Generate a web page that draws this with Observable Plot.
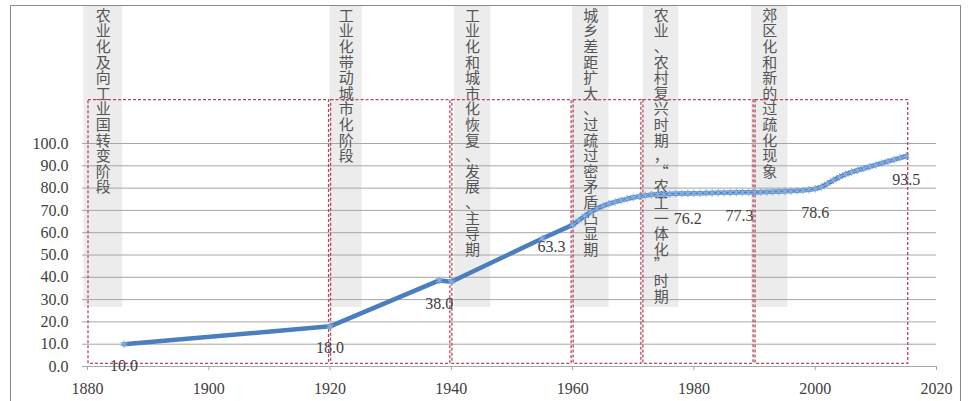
<!DOCTYPE html>
<html>
<head>
<meta charset="utf-8">
<script src="https://cdn.jsdelivr.net/npm/d3@7"></script>
<script src="https://cdn.jsdelivr.net/npm/@observablehq/plot@0.6"></script>
<style>
  html, body { margin: 0; padding: 0; background: #fff; }
  #wrap { position: relative; width: 973px; height: 401px; overflow: hidden; }
  #border { position: absolute; left: 10px; top: 5px; width: 951px; height: 400px; border: 1.5px solid #8a8a8a; box-sizing: border-box; pointer-events: none; }
  #chart { position: absolute; left: 0; top: 0; }
</style>
</head>
<body>
<div id="wrap"><div id="chart"></div><div id="border"></div></div>
<script>
// ---- data ----
const lineYears = [1886, 1920, 1938, 1940, 1955, 1960,
  1961, 1962, 1963, 1964, 1965, 1966, 1967, 1968, 1969, 1970,
  1971, 1972, 1973, 1974, 1975, 1976, 1977, 1978, 1979, 1980,
  1981, 1982, 1983, 1984, 1985, 1986, 1987, 1988, 1989, 1990,
  1991, 1992, 1993, 1994, 1995, 1996, 1997, 1998, 1999, 2000,
  2001, 2002, 2003, 2004, 2005, 2006, 2007, 2008, 2009, 2010,
  2011, 2012, 2013, 2014, 2015];
const lineValues = [10.0, 18.0, 38.6, 38.0, 57.4, 63.5,
  65.5, 67.5, 69.3, 70.8, 72.0, 73.0, 73.8, 74.5, 75.2, 75.8,
  76.3, 76.7, 77.0, 77.2, 77.3, 77.4, 77.5, 77.6, 77.6, 77.7,
  77.7, 77.8, 77.8, 77.9, 77.9, 78.0, 78.0, 78.1, 78.1, 78.2,
  78.2, 78.3, 78.4, 78.5, 78.6, 78.7, 78.8, 79.0, 79.3, 79.7,
  80.5, 82.0, 83.5, 85.0, 86.2, 87.2, 88.0, 88.8, 89.6, 90.4,
  91.2, 92.0, 92.8, 93.6, 94.4];

const labelYears = [1886, 1920, 1938, 1956.5, 1979, 1987.5, 2000, 2015];
const labelValues = [10.0, 18.0, 38.0, 63.3, 76.2, 77.3, 78.6, 93.5];

const stageNames = [
  "农业化及向工业国转变阶段",
  "工业化带动城市化阶段",
  "工业化和城市化恢复、发展、主导期",
  "城乡差距扩大、过疏过密矛盾凸显期",
  "农业、农村复兴时期，“农工一体化”时期",
  "郊区化和新的过疏化现象"
];
const stageStart = [1880, 1920, 1940, 1960, 1971.5, 1990];
const stageEnd   = [1920, 1940, 1960, 1971.5, 1990, 2015.5];
const bandStart  = [1879.4, 1920, 1940.5, 1960, 1971.7, 1989.5];
const bandEnd    = [1885.8, 1925.3, 1946.5, 1966, 1977.5, 1995.5];

const yTicks = [0, 10, 20, 30, 40, 50, 60, 70, 80, 90, 100];
const xTicks = [1880, 1900, 1920, 1940, 1960, 1980, 2000, 2020];

// ---- tables ----
const line = lineYears.map((y, i) => ({year: y, value: lineValues[i]}));
const labels = labelYears.map((y, i) => ({year: y, value: labelValues[i]}));
const stages = stageNames.map((n, i) => ({
  name: n, x1: stageStart[i], x2: stageEnd[i], b1: bandStart[i], b2: bandEnd[i],
  text: Array.from(n).join("\n")
}));

const serif = "Liberation Serif";
const cjk = "Noto Sans CJK SC";

const chart = Plot.plot({
  width: 973,
  height: 401,
  marginLeft: 87,
  marginRight: 37,
  marginTop: 5,
  marginBottom: 35,
  style: {background: "transparent", fontFamily: serif, fontSize: "16px", color: "#404040"},
  x: {domain: [1880, 2020]},
  y: {domain: [0, 161.9]},
  marks: [
    // gray bands behind stage text
    Plot.rect(stages, {x1: "b1", x2: "b2", y1: 26.5, y2: 161.9, fill: "#ececec"}),
    // gridlines
    Plot.ruleY(yTicks.filter(d => d > 0), {stroke: "#a6a6a6", strokeWidth: 1}),
    // axes
    Plot.axisY({ticks: yTicks, tickSize: 5, tickPadding: 14, tickFormat: d => d.toFixed(1),
      fontSize: 16, fontFamily: serif, stroke: "#a6a6a6", fill: "#404040", label: null}),
    Plot.ruleY([0], {stroke: "#a6a6a6", strokeWidth: 1}),
    Plot.axisX({ticks: xTicks, tickSize: 4, tickPadding: 12, tickFormat: d => String(d),
      fontSize: 16, fontFamily: serif, stroke: "#a6a6a6", fill: "#404040", label: null}),
    // stage text (vertical, one character per line)
    Plot.text(stages, {x: d => (d.b1 + d.b2) / 2, y: 160, text: "text", lineAnchor: "top",
      fontSize: 15, lineHeight: 1.04, fill: "#555555", fontFamily: cjk}),
    // dashed period boxes
    Plot.rect(stages, {x1: "x1", x2: "x2", y1: 1.2, y2: 119.5, insetLeft: 1, insetRight: 1,
      fill: "none", stroke: "#b5485e", strokeWidth: 1.3, strokeDasharray: "3,2"}),
    // the series
    Plot.line(line, {x: "year", y: "value", stroke: "#4a7ebf", strokeWidth: 4.5}),
    Plot.dot(line, {x: "year", y: "value", symbol: "asterisk", r: 3.5,
      stroke: "#86afe0", strokeWidth: 1.2}),
    // data labels
    Plot.text(labels, {x: "year", y: "value", text: d => d.value.toFixed(1), dy: 22,
      fontSize: 16, fill: "#404040", fontFamily: serif})
  ]
});
document.getElementById("chart").appendChild(chart);
</script>
</body>
</html>
